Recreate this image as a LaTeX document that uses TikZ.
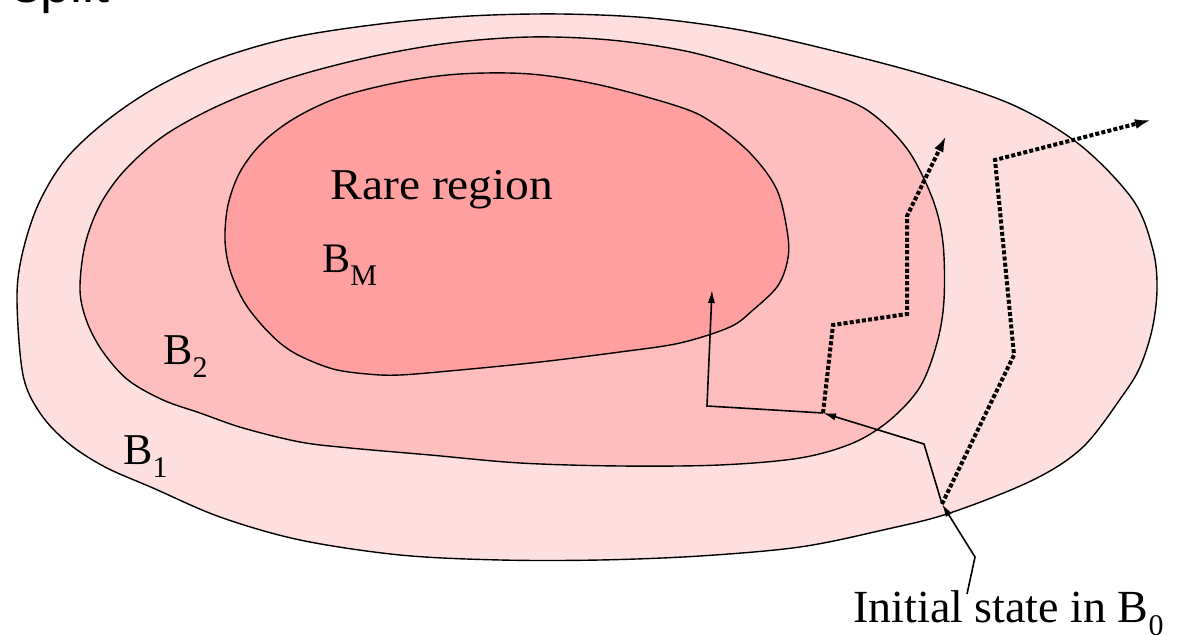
\documentclass[tikz,border=0pt]{standalone}
\usepackage{fontspec}
\setmainfont{Liberation Serif}
\newfontfamily\headfont{Liberation Sans}
\usetikzlibrary{arrows.meta}
\definecolor{bone}{RGB}{253,223,224}
\definecolor{btwo}{RGB}{255,190,190}
\definecolor{bem}{RGB}{255,159,159}
\newcommand{\lowsub}[1]{\raisebox{-6.2pt}{\fontsize{15}{15}\selectfont #1}}
\begin{document}
\begin{tikzpicture}[x=0.5pt,y=-0.5pt,
  region/.style={draw=black,line width=0.7pt},
  lbl/.style={inner sep=0pt,anchor=base west,font=\fontsize{22}{26}\selectfont},
  solidtraj/.style={line width=0.8pt,-{Latex[length=6.5pt,width=3.6pt]}},
  dottraj/.style={line width=2pt,dash pattern=on 2pt off 1.1pt,-{Latex[length=8pt,width=5pt]}}]
\useasboundingbox (0,0) rectangle (1184,635);

% regions
\draw[region,fill=bone] plot[smooth cycle,tension=0.55] coordinates {
 (17,300) (22,255) (38,205) (65,160) (105,122) (155,88) (215,60) (290,38)
 (380,24) (470,16) (560,14) (650,18) (740,30) (830,50) (925,75) (1013,105)
 (1080,145) (1133,200) (1153,250) (1157,290) (1152,330) (1140,367) (1123,395)
 (1083,447) (1033,480) (950,513) (883,530) (800,547) (700,556) (600,560)
 (500,560) (400,555) (300,540) (220,517) (153,488) (105,467) (68,443)
 (40,413) (23,375)};
\draw[region,fill=btwo] plot[smooth cycle,tension=0.55] coordinates {
 (80,290) (85,245) (100,205) (125,170) (165,135) (220,105) (290,78) (370,57)
 (450,43) (530,37) (610,40) (690,52) (770,75) (847,100) (880,120) (910,153)
 (933,200) (943,243) (944,300) (937,343) (920,387) (890,420) (853,443)
 (800,458) (720,465) (620,466) (520,463) (430,455) (350,448) (300,442)
 (243,428) (200,413) (163,400) (128,380) (103,352) (87,322)};
\draw[region,fill=bem] plot[smooth cycle,tension=0.55] coordinates {
 (225,240) (228,205) (240,172) (262,143) (295,118) (340,97) (400,82) (460,74)
 (530,74) (600,85) (680,107) (713,123) (750,153) (777,190) (788,237)
 (787,263) (777,287) (753,310) (730,327) (680,343) (620,352) (540,362)
 (460,370) (400,375) (367,374) (333,369) (300,356) (280,343) (260,323)
 (243,300) (230,270)};

% labels
\node[inner sep=0pt,anchor=base west,font=\headfont\fontsize{27}{30}\selectfont] (title) at (13,2.5) {split};
\node[lbl,xscale=1.08] (rare) at (330,200) {Rare region};
\node[lbl,font=\fontsize{21}{25}\selectfont] (bm) at (322,273) {B\lowsub{M}};
\node[lbl] (b2) at (163,365) {B\lowsub{2}};
\node[lbl] (b1) at (123,465) {B\lowsub{1}};
\node[lbl,font=\fontsize{23}{27}\selectfont] (init) at (853,623) {Initial state in B\lowsub{0}};

% trajectory points
\coordinate (s0) at (942,504);
\coordinate (c1) at (924,444);
\coordinate (h2) at (823,413);
\coordinate (c2) at (707,406);
\coordinate (tM) at (712,290);
\coordinate (d1) at (833,325);
\coordinate (d2) at (907,314);
\coordinate (d3) at (907,216);
\coordinate (dEnd) at (946,136);
\coordinate (e1) at (1014,355);
\coordinate (e2) at (995,160);
\coordinate (eEnd) at (1151,120);
\coordinate (L0) at (967,594);
\coordinate (L1) at (975,557);

% trajectories
\draw[solidtraj] (s0) -- (c1) -- (h2);
\draw[solidtraj] (h2) -- (c2) -- (tM);
\draw[dottraj] (h2) -- (d1) -- (d2) -- (d3) -- (dEnd);
\draw[dottraj] (s0) -- (e1) -- (e2) -- (eEnd);
\draw[solidtraj] (L0) -- (L1) -- (s0);
\end{tikzpicture}
\end{document}
